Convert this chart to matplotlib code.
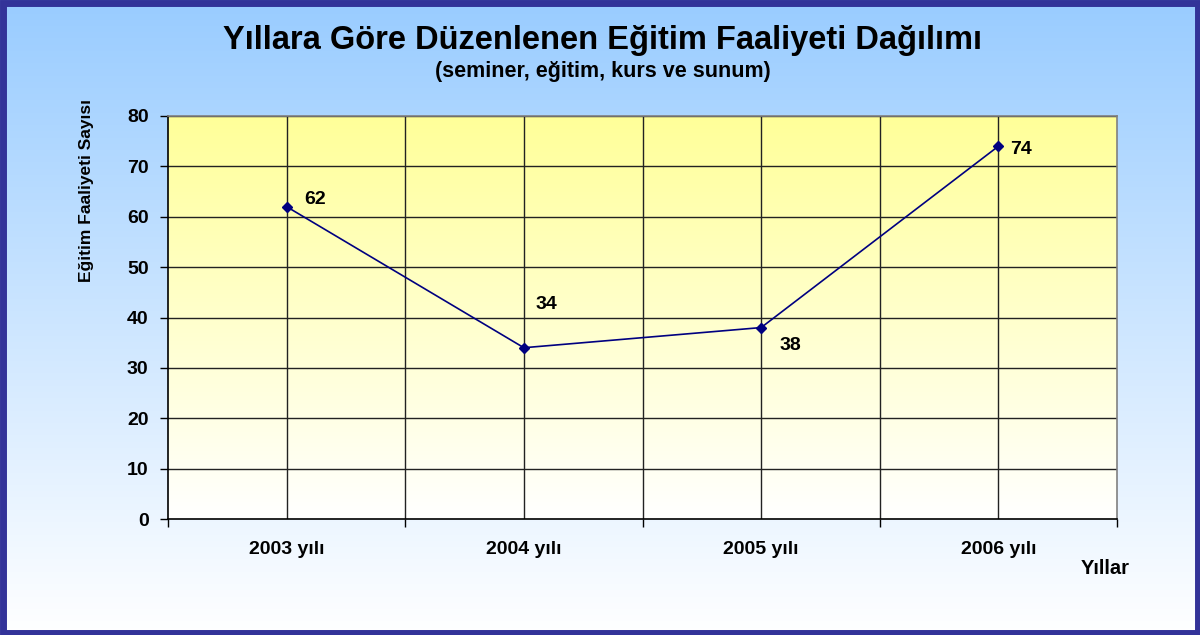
import numpy as np
import matplotlib
matplotlib.use("Agg")
import matplotlib.pyplot as plt
from matplotlib.patches import Rectangle
from matplotlib.colors import LinearSegmentedColormap

categories = ["2003 yılı", "2004 yılı", "2005 yılı", "2006 yılı"]
values = [62, 34, 38, 74]
yticks = [0, 10, 20, 30, 40, 50, 60, 70, 80]

plt.rcParams['font.family'] = ['Liberation Sans', 'DejaVu Sans']
plt.rcParams['font.weight'] = 'bold'

W, H = 1200, 635
fig = plt.figure(figsize=(W / 100, H / 100), dpi=100)

# figure background gradient
bg = fig.add_axes([0, 0, 1, 1], zorder=-10)
bg_cmap = LinearSegmentedColormap.from_list("bg", ["#99CCFF", "#FFFFFF"])
grad = np.linspace(0, 1, 256).reshape(-1, 1)
bg.imshow(grad, aspect='auto', cmap=bg_cmap, extent=[0, 1, 0, 1], origin='upper')
bg.set_xlim(0, 1); bg.set_ylim(0, 1)
bg.axis('off')
fig.patches.append(Rectangle((2.5 / W, 2.5 / H), 1 - 5 / W, 1 - 5 / H, transform=fig.transFigure,
                             fill=False, edgecolor='#333399', linewidth=5, zorder=100))

x0, x1 = 168, 1117
y0, y1 = 116, 519
ax = fig.add_axes([x0 / W, 1 - y1 / H, (x1 - x0) / W, (y1 - y0) / H])
ax.set_xlim(-0.5, 3.5)
ax.set_ylim(0, 80)

pa_cmap = LinearSegmentedColormap.from_list("pa", ["#FFFF99", "#FFFFFF"])
ax.imshow(np.linspace(0, 1, 256).reshape(-1, 1), aspect='auto', cmap=pa_cmap,
          extent=[-0.5, 3.5, 0, 80], origin='upper', zorder=0)

# grid
for gx in np.arange(0, 3.01, 0.5):
    ax.axvline(gx, color='#222222', linewidth=1, zorder=1)
for gy in yticks[1:]:
    ax.axhline(gy, color='#222222', linewidth=1, zorder=1)

xs = np.arange(len(categories))
ax.plot(xs, values, color='#000080', linewidth=1.2, marker='D', markersize=5.5, zorder=3)

offsets = [(18, 7), (12, 43), (18, -18), (12, -3)]
for x, v, (dx, dy) in zip(xs, values, offsets):
    ax.annotate(str(v), (x, v), xytext=(dx, dy), textcoords='offset pixels',
                fontsize=14, fontweight='bold', ha='left', va='center', zorder=4)

ax.set_yticks(yticks)
ax.set_yticklabels([str(t) for t in yticks], fontsize=14, fontweight='bold')
ax.set_xticks([-0.5, 0.5, 1.5, 2.5, 3.5])
ax.set_xticklabels([])
ax.set_xticks(xs, minor=True)
ax.set_xticklabels(categories, minor=True, fontsize=14, fontweight='bold')
ax.tick_params(axis='x', which='major', direction='out', length=6, width=1)
ax.tick_params(axis='x', which='minor', length=0, pad=16)
ax.tick_params(axis='y', direction='out', length=6, width=1, pad=8)

for s in ['left', 'bottom']:
    ax.spines[s].set_color('black'); ax.spines[s].set_linewidth(1.2)
for s in ['top', 'right']:
    ax.spines[s].set_color('#808080'); ax.spines[s].set_linewidth(1.2)

fig.text(603 / W, 1 - 41 / H, "Yıllara Göre Düzenlenen Eğitim Faaliyeti Dağılımı",
         ha='center', va='center', fontsize=23.5, fontweight='bold')
fig.text(603 / W, 1 - 71 / H, "(seminer, eğitim, kurs ve sunum)",
         ha='center', va='center', fontsize=15.5, fontweight='bold')
fig.text(87 / W, 1 - 191 / H, "Eğitim Faaliyeti Sayısı", rotation=90,
         ha='center', va='center', fontsize=12.5, fontweight='bold')
fig.text(1105 / W, 1 - 568 / H, "Yıllar", ha='center', va='center',
         fontsize=14.5, fontweight='bold')

fig.savefig("out.png", dpi=100)
